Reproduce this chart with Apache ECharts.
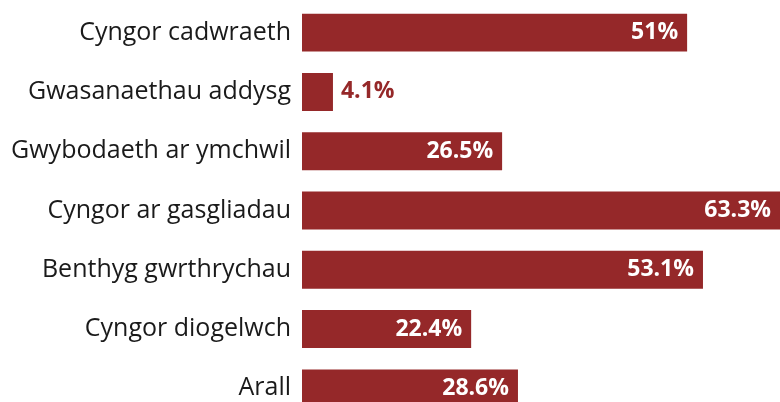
<!DOCTYPE html>
<html>
<head>
<meta charset="utf-8">
<script src="https://cdn.jsdelivr.net/npm/echarts@6/dist/echarts.min.js"></script>
<style>
  html, body { margin: 0; padding: 0; background: #fff; }
</style>
</head>
<body>
<div id="main" style="width: 780px;height:402px;"></div>
<script>
  // categories, top to bottom as in the picture
  var categories = ['Cyngor cadwraeth', 'Gwasanaethau addysg', 'Gwybodaeth ar ymchwil',
    'Cyngor ar gasgliadau', 'Benthyg gwrthrychau', 'Cyngor diogelwch', 'Arall'];
  var values = [51, 4.1, 26.5, 63.3, 53.1, 22.4, 28.6];

  var barColor = '#952829';

  var myChart = echarts.init(document.getElementById('main'));

  let data = values.map(function (v) {
    let small = v < 10;
    return {
      value: v,
      label: {
        position: small ? 'right' : 'insideRight',
        color: small ? barColor : '#fff',
        distance: small ? 8 : 9
      }
    };
  });

  let option = {
    animation: false,
    grid: {
      left: 302,
      top: 3,
      width: 478,
      height: 415,
      outerBoundsMode: 'none'
    },
    xAxis: {
      type: 'value',
      min: 0,
      max: 63.3,
      show: false
    },
    yAxis: {
      type: 'category',
      data: categories,
      inverse: true,
      axisLine: { show: false },
      axisTick: { show: false },
      axisLabel: {
        margin: 11,
        fontFamily: 'Open Sans',
        fontSize: 25,
        color: '#1a1a1a'
      }
    },
    series: [
      {
        type: 'bar',
        data: data,
        barCategoryGap: '36%',
        itemStyle: { color: barColor },
        label: {
          show: true,
          fontFamily: 'Open Sans',
          fontWeight: 'bold',
          fontSize: 23,
          formatter: function (p) { return p.value + '%'; }
        }
      }
    ]
  };
  myChart.setOption(option);
</script>
</body>
</html>
